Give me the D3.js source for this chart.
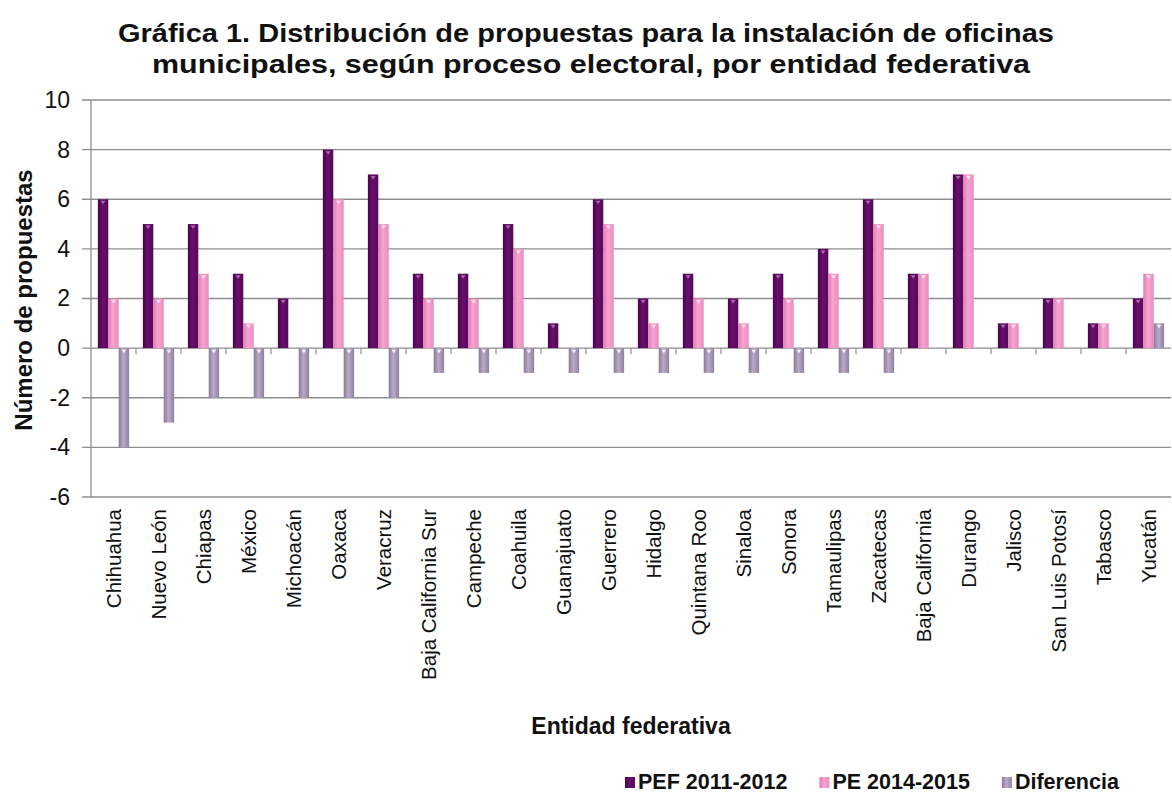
<!DOCTYPE html>
<html>
<head>
<meta charset="utf-8">
<script src="https://cdn.jsdelivr.net/npm/d3@7"></script>
<style>
  body { margin: 0; background: #fff; }
  svg { display: block; font-family: "Liberation Sans", Arial, sans-serif; }
</style>
</head>
<body>
<svg id="chart" width="1172" height="793"></svg>
<script>
// data
const categories = ["Chihuahua", "Nuevo León", "Chiapas", "México", "Michoacán", "Oaxaca",
  "Veracruz", "Baja California Sur", "Campeche", "Coahuila", "Guanajuato", "Guerrero",
  "Hidalgo", "Quintana Roo", "Sinaloa", "Sonora", "Tamaulipas", "Zacatecas",
  "Baja California", "Durango", "Jalisco", "San Luis Potosí", "Tabasco", "Yucatán"];
const pef = [6, 5, 5, 3, 2, 8, 7, 3, 3, 5, 1, 6, 2, 3, 2, 3, 4, 6, 3, 7, 1, 2, 1, 2];
const pe = [2, 2, 3, 1, 0, 6, 5, 2, 2, 4, 0, 5, 1, 2, 1, 2, 3, 5, 3, 7, 1, 2, 1, 3];
const diferencia = [-4, -3, -2, -2, -2, -2, -2, -1, -1, -1, -1, -1, -1, -1, -1, -1, -1, -1, 0, 0, 0, 0, 0, 1];
const seriesNames = ["PEF 2011-2012", "PE 2014-2015", "Diferencia"];
const yTicks = [10, 8, 6, 4, 2, 0, -2, -4, -6];

const titleLines = ["Gráfica 1. Distribución de propuestas para la instalación de oficinas",
  "municipales, según proceso electoral, por entidad federativa"];

const canvas = {width: 1172, height: 793, left: 91, right: 1171, top: 100, bottom: 497};
const fontFamily = "'Liberation Sans', Arial, sans-serif";

// colours per series: [edge, centre, edge, top mark]
const colors = {
  "PEF 2011-2012": ["#4a044d", "#680f6b", "#58085b", "#a56aa6"],
  "PE 2014-2015": ["#df7cb3", "#f8a4cf", "#e98bbf", "#fde4f0"],
  "Diferencia": ["#877a98", "#b9abc8", "#8e809f", "#f3eef7"]
};

const svg = d3.select("#chart");

const defs = svg.append("defs");
seriesNames.forEach((s, i) => {
  let grad = defs.append("linearGradient")
    .attr("id", "grad" + i)
    .attr("x1", 0).attr("x2", 1).attr("y1", 0).attr("y2", 0);
  grad.append("stop").attr("offset", "0%").attr("stop-color", colors[s][0]);
  grad.append("stop").attr("offset", "45%").attr("stop-color", colors[s][1]);
  grad.append("stop").attr("offset", "100%").attr("stop-color", colors[s][2]);
});

let x0 = d3.scaleBand()
  .domain(categories)
  .range([canvas.left, canvas.right])
  .padding(0);

let x1 = d3.scaleBand()
  .domain(seriesNames)
  .range([0, x0.bandwidth()])
  .paddingInner(0)
  .paddingOuter(0.66);

let y = d3.scaleLinear()
  .domain([-6, 10])
  .range([canvas.bottom, canvas.top]);

// gridlines
svg.append("g").selectAll("line")
  .data(yTicks)
  .join("line")
  .attr("x1", canvas.left - 9)
  .attr("x2", canvas.right)
  .attr("y1", d => y(d))
  .attr("y2", d => y(d))
  .attr("stroke", "#8e8e8e")
  .attr("stroke-width", 1.3);

// y axis line
svg.append("line")
  .attr("x1", canvas.left).attr("x2", canvas.left)
  .attr("y1", y(10)).attr("y2", y(-6))
  .attr("stroke", "#8e8e8e")
  .attr("stroke-width", 1.3);

// y axis labels (plain hyphen for negatives, like the original)
let yAxis = d3.axisLeft(y).tickValues(yTicks).tickSize(0).tickPadding(21)
  .tickFormat(d => String(d));
let gy = svg.append("g")
  .attr("transform", `translate(${canvas.left}, 0)`)
  .call(yAxis);
gy.select(".domain").remove();
gy.selectAll("text")
  .attr("font-size", 23)
  .attr("font-family", fontFamily)
  .attr("fill", "#111");

// category tick marks on the zero line
svg.append("g").selectAll("line")
  .data(categories.slice(1))
  .join("line")
  .attr("x1", d => x0(d))
  .attr("x2", d => x0(d))
  .attr("y1", y(0))
  .attr("y2", y(0) + 6)
  .attr("stroke", "#8e8e8e")
  .attr("stroke-width", 1.2);

// bars
let rows = categories.map((c, i) => ({
  category: c,
  values: [pef[i], pe[i], diferencia[i]]
}));

let groups = svg.append("g").selectAll("g")
  .data(rows)
  .join("g")
  .attr("transform", d => `translate(${x0(d.category)}, 0)`);

let barData = d => d.values
  .map((v, i) => ({series: seriesNames[i], idx: i, value: v}))
  .filter(b => b.value !== 0);

groups.selectAll("rect")
  .data(barData)
  .join("rect")
  .attr("x", d => x1(d.series))
  .attr("width", x1.bandwidth())
  .attr("y", d => y(Math.max(0, d.value)))
  .attr("height", d => Math.abs(y(d.value) - y(0)))
  .attr("fill", d => `url(#grad${d.idx})`);

// little bevel mark on top of each bar
groups.selectAll("path")
  .data(barData)
  .join("path")
  .attr("d", d => {
    let cx = x1(d.series) + x1.bandwidth() / 2;
    let top = y(Math.max(0, d.value)) + 1.5;
    return `M${cx - 2.5},${top} L${cx + 2.5},${top} L${cx},${top + 3.5} Z`;
  })
  .attr("fill", d => colors[d.series][3]);

// category labels
svg.append("g").selectAll("text")
  .data(categories)
  .join("text")
  .attr("transform", d => `translate(${x0(d) + x0.bandwidth() / 2}, 509) rotate(-90)`)
  .attr("dy", "0.36em")
  .attr("text-anchor", "end")
  .attr("font-size", 20.5)
  .attr("fill", "#111")
  .text(d => d);

// title
svg.append("g").selectAll("text")
  .data(titleLines)
  .join("text")
  .attr("x", (d, i) => i === 0 ? 118 : 152)
  .attr("y", (d, i) => 42 + i * 31)
  .attr("font-size", 26)
  .attr("font-weight", "bold")
  .attr("fill", "#111")
  .attr("textLength", (d, i) => i === 0 ? 936 : 878)
  .attr("lengthAdjust", "spacingAndGlyphs")
  .text(d => d);

// axis titles
svg.append("text")
  .attr("transform", `translate(32, 300) rotate(-90)`)
  .attr("text-anchor", "middle")
  .attr("font-size", 24)
  .attr("font-weight", "bold")
  .attr("fill", "#111")
  .text("Número de propuestas");

svg.append("text")
  .attr("x", 631)
  .attr("y", 734)
  .attr("text-anchor", "middle")
  .attr("font-size", 23)
  .attr("font-weight", "bold")
  .attr("fill", "#111")
  .text("Entidad federativa");

// legend
let legend = svg.append("g");
let lx = 625;
seriesNames.forEach((s, i) => {
  legend.append("rect")
    .attr("x", lx)
    .attr("y", 777)
    .attr("width", 10)
    .attr("height", 11)
    .attr("fill", `url(#grad${i})`);
  let t = legend.append("text")
    .attr("x", lx + 13)
    .attr("y", 789)
    .attr("font-size", 21.5)
    .attr("font-weight", "bold")
    .attr("fill", "#111")
    .text(s);
  lx = lx + 13 + t.node().getComputedTextLength() + 32;
});
</script>
</body>
</html>
